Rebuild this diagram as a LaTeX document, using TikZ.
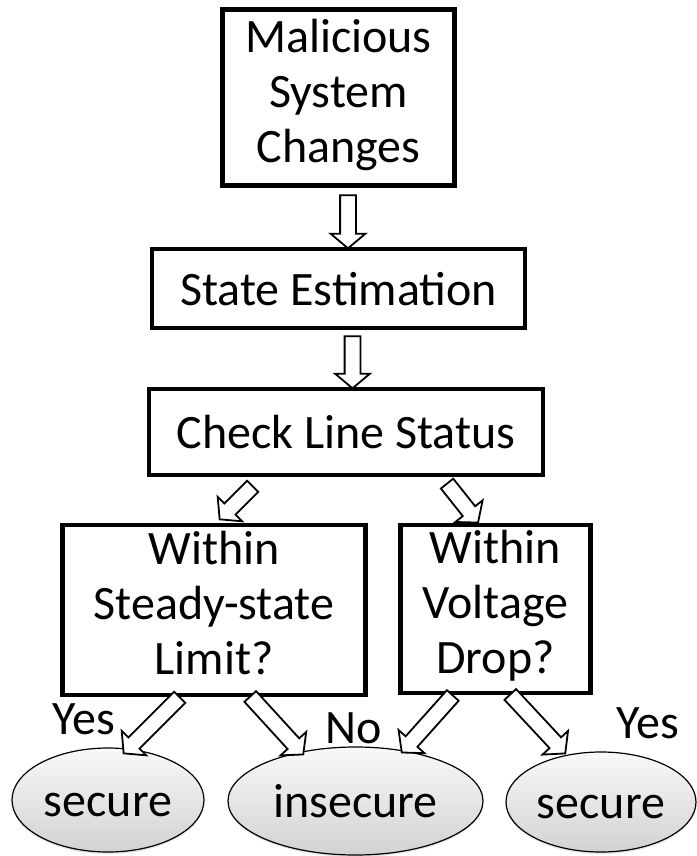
\documentclass[tikz,border=0pt]{standalone}
\usepackage{fontspec}
\setmainfont{Carlito}
\usetikzlibrary{shapes.geometric, shapes.arrows, calc, shadows}

% hollow block arrow between two named points
\newcommand{\blockarr}[2]{%
  \path let \p1=($(#2)-(#1)$), \n1={atan2(\y1,\x1)}, \n2={veclen(\x1,\y1)} in
    node[barrow, minimum height=\n2, rotate=\n1] at ($(#1)!0.5!(#2)$) {};
}
% even line heights
\newcommand{\lnstrut}{\rule[-14pt]{0pt}{61pt}}

\begin{document}
\begin{tikzpicture}[
  x=1pt, y=-1pt,
  box/.style={
    rectangle, draw=black, line width=4.5pt, fill=white,
    font=\fontsize{48}{55}\selectfont, align=center, inner sep=0pt,
    execute at begin node=\lnstrut, execute at end node=\lnstrut
  },
  barrow/.style={
    single arrow, draw=black, fill=white, line width=1.8pt,
    inner xsep=0pt, inner ysep=7pt,
    single arrow head extend=9.5pt, single arrow tip angle=100,
    single arrow head indent=0pt
  },
  outcome/.style={
    ellipse, draw=black, line width=1.2pt, inner sep=0pt,
    top color=gray!5, bottom color=gray!35,
    drop shadow={opacity=0.2, shadow xshift=0pt, shadow yshift=-2pt},
    font=\fontsize{48}{55}\selectfont,
    execute at begin node=\lnstrut
  },
  lbl/.style={font=\fontsize{48}{55}\selectfont, inner sep=0pt},
]
  \useasboundingbox (0,0) rectangle (696,856);

  % Boxes
  \node[box, minimum width=232pt, minimum height=176pt] (mal) at (338.5,97.5) {Malicious\\System\\Changes};
  \node[box, minimum width=373pt, minimum height=79pt] (est) at (338.5,288.5) {State Estimation};
  \node[box, minimum width=394pt, minimum height=86pt] (chk) at (346,432) {Check Line Status};
  \node[box, minimum width=303pt, minimum height=170pt] (lim) at (214,610) {Within\\Steady-state\\Limit?};
  \node[box, minimum width=190pt, minimum height=168pt] (drp) at (495.5,609) {Within\\Voltage\\Drop?};

  % Outcomes
  \node[outcome, minimum width=192pt, minimum height=104pt] (sec1) at (108,800) {secure};
  \node[outcome, minimum width=255pt, minimum height=108pt] (insec) at (355.5,801) {insecure};
  \node[outcome, minimum width=190pt, minimum height=100pt] (sec2) at (601,802) {secure};

  % Arrow ends
  \coordinate (a1s) at (348,192);   \coordinate (a1e) at (348,245);
  \coordinate (a2s) at (352.5,333); \coordinate (a2e) at (352.5,385);
  \coordinate (a3s) at (255,484);   \coordinate (a3e) at (222,517);
  \coordinate (a4s) at (445,481);   \coordinate (a4e) at (476,520);
  \coordinate (a5s) at (182,695);   \coordinate (a5e) at (126,751);
  \coordinate (a6s) at (248,694);   \coordinate (a6e) at (301,752);
  \coordinate (a7s) at (455,693);   \coordinate (a7e) at (404,750);
  \coordinate (a8s) at (508,692);   \coordinate (a8e) at (563,751);

  % Arrows
  \blockarr{a1s}{a1e}
  \blockarr{a2s}{a2e}
  \blockarr{a3s}{a3e}
  \blockarr{a4s}{a4e}
  \blockarr{a5s}{a5e}
  \blockarr{a6s}{a6e}
  \blockarr{a7s}{a7e}
  \blockarr{a8s}{a8e}

  % Labels
  \node[lbl] (yes1) at (84,719) {Yes};
  \node[lbl] (no) at (354,728) {No};
  \node[lbl] (yes2) at (648,723) {Yes};
\end{tikzpicture}
\end{document}
